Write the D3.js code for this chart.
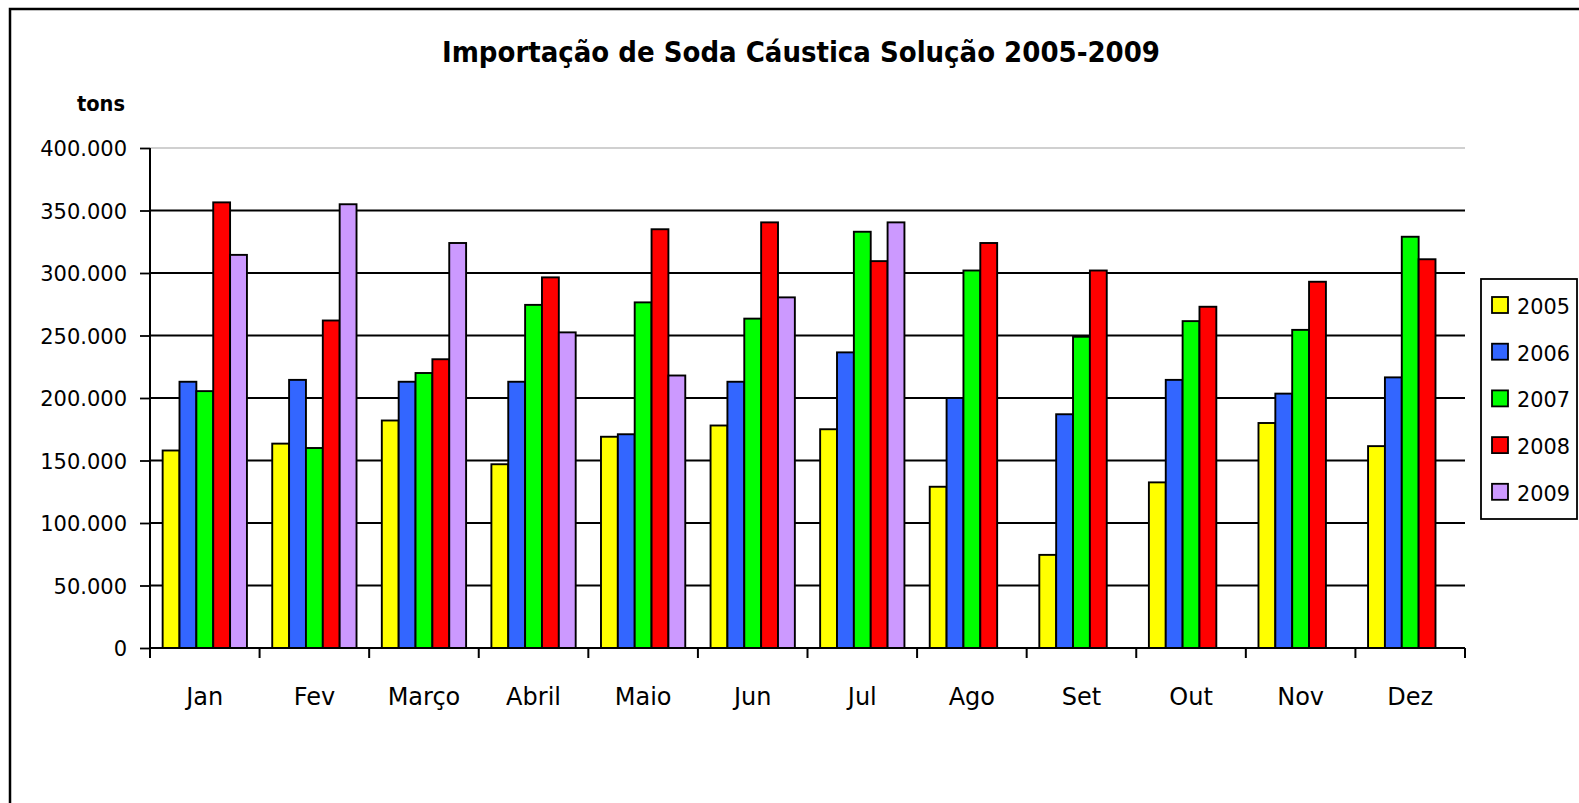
<!DOCTYPE html>
<html>
<head>
<meta charset="utf-8">
<script src="https://cdn.jsdelivr.net/npm/d3@7"></script>
<style>
  html, body { margin: 0; padding: 0; background: #fff; overflow: hidden; }
  text { font-family: "DejaVu Sans", sans-serif; fill: #000; }
</style>
</head>
<body>
<div id="grafico"></div>
<script>
const meses = ["Jan", "Fev", "Março", "Abril", "Maio", "Jun", "Jul", "Ago", "Set", "Out", "Nov", "Dez"];
const anos = ["2005", "2006", "2007", "2008", "2009"];
const cores = ["#ffff00", "#3366ff", "#00ff00", "#ff0000", "#cc99ff"];

const v2005 = [158000, 163500, 182000, 147000, 169000, 178000, 175000, 129000, 74500, 132500, 180000, 161500];
const v2006 = [213000, 214500, 213000, 213000, 171000, 213000, 236500, 200000, 187000, 214500, 203500, 216500];
const v2007 = [205500, 160000, 220000, 274500, 276500, 263500, 333000, 302000, 249000, 261500, 254500, 329000];
const v2008 = [356500, 262000, 231000, 296500, 335000, 340500, 309500, 324000, 302000, 273000, 293000, 311000];
const v2009 = [314500, 355000, 324000, 252500, 218000, 280500, 340500, null, null, null, null, null];

const yTicks = [0, 50000, 100000, 150000, 200000, 250000, 300000, 350000, 400000];

const series = [v2005, v2006, v2007, v2008, v2009];

const W = 1579, H = 803;
const margin = { top: 148, left: 150, right: 114, bottom: 154 };
const width = W - margin.left - margin.right;
const height = H - margin.top - margin.bottom - 1;

const svg = d3.select("#grafico").append("svg")
    .attr("width", W)
    .attr("height", H);

// borda externa (vai além da imagem à direita e embaixo)
svg.append("rect")
    .attr("x", 10).attr("y", 9)
    .attr("width", 1700).attr("height", 1000)
    .attr("fill", "none")
    .attr("stroke", "#000")
    .attr("stroke-width", 2.5);

svg.append("text")
    .attr("x", 801)
    .attr("y", 62)
    .attr("text-anchor", "middle")
    .attr("font-size", "28px")
    .attr("font-weight", "bold")
    .attr("textLength", 718)
    .attr("lengthAdjust", "spacingAndGlyphs")
    .text("Importação de Soda Cáustica Solução 2005-2009");

svg.append("text")
    .attr("x", 125)
    .attr("y", 111)
    .attr("text-anchor", "end")
    .attr("font-size", "21px")
    .attr("font-weight", "bold")
    .attr("textLength", 48)
    .attr("lengthAdjust", "spacingAndGlyphs")
    .text("tons");

const g = svg.append("g")
    .attr("transform", `translate(${margin.left}, ${margin.top})`);

const x0 = d3.scaleBand()
    .domain(meses)
    .range([0, width])
    .padding(0);

const x1 = d3.scaleBand()
    .domain(anos)
    .range([0, x0.bandwidth()])
    .paddingInner(0)
    .paddingOuter(0.75);

const y = d3.scaleLinear()
    .domain([0, 400000])
    .range([height, 0]);

const fmt = d3.formatLocale({ decimal: ",", thousands: ".", grouping: [3], currency: ["", ""] }).format(",d");

// grade
g.selectAll(".grade")
    .data(yTicks.filter(t => t > 0))
    .enter()
    .append("line")
    .attr("x1", 0)
    .attr("x2", width)
    .attr("y1", d => y(d))
    .attr("y2", d => y(d))
    .attr("stroke", d => d === 400000 ? "#c0c0c0" : "#000")
    .attr("stroke-width", d => d === 400000 ? 1.5 : 1.8);

// barras
const dados = [];
meses.forEach((m, i) => {
    anos.forEach((a, j) => {
        if (series[j][i] != null) dados.push({ mes: m, ano: a, valor: series[j][i], cor: cores[j] });
    });
});

g.selectAll(".bar")
    .data(dados)
    .enter()
    .append("rect")
    .attr("class", "bar")
    .attr("x", d => x0(d.mes) + x1(d.ano))
    .attr("y", d => y(d.valor))
    .attr("width", x1.bandwidth())
    .attr("height", d => height - y(d.valor))
    .attr("fill", d => d.cor)
    .attr("stroke", "#000")
    .attr("stroke-width", 1.9);

// eixo y
const yAxis = g.append("g")
    .call(d3.axisLeft(y).tickValues(yTicks).tickSize(10).tickPadding(13).tickFormat(fmt));
yAxis.select(".domain").attr("stroke", "#000").attr("stroke-width", 2).attr("d", `M0,${height}V0`);
yAxis.selectAll(".tick line").attr("stroke", "#000").attr("stroke-width", 1.8);
yAxis.selectAll("text")
    .attr("font-size", "21px")
    .attr("font-family", "DejaVu Sans")
    .attr("dy", "0.36em");

// eixo x
const bordas = meses.map(m => x0(m)).concat([width]);
const xAxis = g.append("g")
    .attr("transform", `translate(0, ${height})`);
xAxis.append("line")
    .attr("x1", 0).attr("x2", width)
    .attr("stroke", "#000").attr("stroke-width", 2);
xAxis.selectAll(".tk")
    .data(bordas)
    .enter()
    .append("line")
    .attr("x1", d => d).attr("x2", d => d)
    .attr("y1", 0).attr("y2", 10)
    .attr("stroke", "#000").attr("stroke-width", 2);
xAxis.selectAll(".lbl")
    .data(meses)
    .enter()
    .append("text")
    .attr("x", d => x0(d) + x0.bandwidth() / 2)
    .attr("y", 57)
    .attr("text-anchor", "middle")
    .attr("font-size", "24px")
    .text(d => d);

// legenda
const leg = svg.append("g").attr("transform", "translate(1481, 279)");
leg.append("rect")
    .attr("width", 96).attr("height", 240)
    .attr("fill", "#fff")
    .attr("stroke", "#000")
    .attr("stroke-width", 1.8);
const itens = leg.selectAll(".item")
    .data(anos)
    .enter()
    .append("g")
    .attr("transform", (d, i) => `translate(0, ${26 + i * 46.7})`);
itens.append("rect")
    .attr("x", 11).attr("y", -8)
    .attr("width", 16).attr("height", 16)
    .attr("fill", (d, i) => cores[i])
    .attr("stroke", "#000")
    .attr("stroke-width", 1.8);
itens.append("text")
    .attr("x", 36)
    .attr("y", 9)
    .attr("font-size", "22px")
    .attr("textLength", 53)
    .attr("lengthAdjust", "spacingAndGlyphs")
    .text(d => d);
</script>
</body>
</html>
